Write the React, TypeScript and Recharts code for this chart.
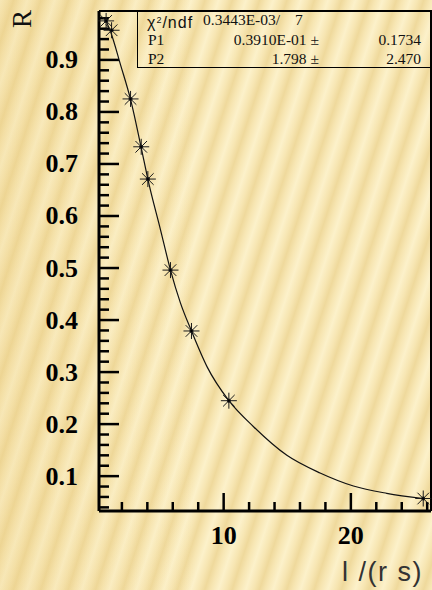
import React from "react";
import {
  ComposedChart,
  Line,
  Scatter,
  XAxis,
  YAxis,
  ReferenceLine,
} from "recharts";

// measured points
const pointX = [0.76, 1.19, 2.68, 3.52, 4.04, 5.82, 7.47, 10.41, 25.69];
const pointR = [0.975, 0.957, 0.825, 0.733, 0.671, 0.496, 0.379, 0.245, 0.057];

// fitted curve
const fitX = [
  0.76, 1.11, 1.9, 2.68, 3.52, 4.04, 5.04, 5.82, 6.6, 7.47, 8.7, 10.41, 12.35,
  14.97, 17.58, 20.2, 22.82, 25.69,
];
const fitR = [
  0.975, 0.954, 0.89, 0.824, 0.731, 0.671, 0.573, 0.496, 0.433, 0.379, 0.31,
  0.245, 0.195, 0.14, 0.106, 0.081, 0.067, 0.057,
];

const xMajorTicks = [10, 20];
const xMinorTicks = [2, 4, 6, 8, 12, 14, 16, 18, 22, 24, 26];
const yMajorTicks = [0.1, 0.2, 0.3, 0.4, 0.5, 0.6, 0.7, 0.8, 0.9];
const yMinorTicks = [
  0.04, 0.06, 0.08, 0.12, 0.14, 0.16, 0.18, 0.22, 0.24, 0.26, 0.28, 0.32, 0.34,
  0.36, 0.38, 0.42, 0.44, 0.46, 0.48, 0.52, 0.54, 0.56, 0.58, 0.62, 0.64, 0.66,
  0.68, 0.72, 0.74, 0.76, 0.78, 0.82, 0.84, 0.86, 0.88, 0.92, 0.94, 0.96, 0.98,
];

const xDomain = [0.2, 26.3];
const yDomain = [0.033, 0.994];

// stats box
const chi2Text = "0.3443E-03/";
const ndfText = "7";
const parNames = ["P1", "P2"];
const parValues = ["0.3910E-01", "1.798"];
const parErrors = ["0.1734", "2.470"];

const points = pointX.map((x, i) => ({ x, r: pointR[i] }));
const fit = fitX.map((x, i) => ({ x, r: fitR[i] }));

// plot area size, used to turn tick lengths in px into data units
const plotW = 432 - 1 - 99;
const plotH = 590 - 11 - 79;
const pxToX = (px: number) => (px * (xDomain[1] - xDomain[0])) / plotW;
const pxToY = (px: number) => (px * (yDomain[1] - yDomain[0])) / plotH;

const isIn = (list: number[], v: number) =>
  list.some((m) => Math.abs(m - v) < 1e-6);

const tickFont = {
  fontFamily: "'Liberation Serif', serif",
  fontWeight: "bold" as const,
  fontSize: 26,
};

function renderYTick(p: any) {
  const v = p.payload.value;
  if (!isIn(yMajorTicks, v)) return <g key={p.index} />;
  return (
    <text
      key={p.index}
      x={Number(p.x) - 21}
      y={Number(p.y)}
      textAnchor="end"
      dominantBaseline="central"
      style={tickFont}
    >
      {v.toFixed(1)}
    </text>
  );
}

function renderXTick(p: any) {
  const v = p.payload.value;
  if (!isIn(xMajorTicks, v)) return <g key={p.index} />;
  return (
    <text
      key={p.index}
      x={Number(p.x)}
      y={Number(p.y) + 24}
      textAnchor="middle"
      dominantBaseline="central"
      style={tickFont}
    >
      {v}
    </text>
  );
}

function Star({ cx, cy }: any) {
  const s = 8;
  const d = 5.8;
  return (
    <g stroke="#1a1a1a" strokeWidth={1}>
      <line x1={cx - s} x2={cx + s} y1={cy} y2={cy} />
      <line x1={cx} x2={cx} y1={cy - s} y2={cy + s} />
      <line x1={cx - d} x2={cx + d} y1={cy - d} y2={cy + d} />
      <line x1={cx - d} x2={cx + d} y1={cy + d} y2={cy - d} />
      <circle cx={cx} cy={cy} r={1.6} fill="#000" />
    </g>
  );
}

const statFont: React.CSSProperties = {
  position: "absolute",
  fontFamily: "'Liberation Serif', serif",
  fontSize: 15.5,
  lineHeight: "18px",
  color: "#111",
  whiteSpace: "nowrap",
};

export default function App() {
  const yTicks = [...yMinorTicks, ...yMajorTicks];
  const xTicks = [...xMinorTicks, ...xMajorTicks];
  return (
    <div
      style={{
        position: "absolute",
        left: 0,
        top: 0,
        width: 432,
        height: 590,
        overflow: "hidden",
        background:
          "linear-gradient(to right, rgba(232,200,120,0.25), rgba(232,200,120,0) 45%), repeating-linear-gradient(108deg, #fcf1ca 0px, #f7e6b3 7px, #efd99c 13px, #f7e6b3 19px, #fcf1ca 26px)",
      }}
    >
      <ComposedChart
        width={432}
        height={590}
        margin={{ top: 11, right: 1, left: 0, bottom: 0 }}
      >
        <XAxis
          type="number"
          dataKey="x"
          domain={xDomain}
          ticks={xTicks}
          interval={0}
          tickSize={0}
          tickMargin={0}
          tick={renderXTick}
          axisLine={false}
          height={79}
        />
        <YAxis
          type="number"
          dataKey="r"
          domain={yDomain}
          ticks={yTicks}
          interval={0}
          tickSize={0}
          tickMargin={0}
          tick={renderYTick}
          axisLine={false}
          width={99}
        />
        {yTicks.map((v) => (
          <ReferenceLine
            key={`ty-${v}`}
            ifOverflow="visible"
            segment={[
              { x: xDomain[0], y: v },
              { x: xDomain[0] + pxToX(isIn(yMajorTicks, v) ? 20 : 10), y: v },
            ]}
            stroke="#000"
            strokeWidth={2.5}
          />
        ))}
        {xTicks.map((v) => (
          <ReferenceLine
            key={`tx-${v}`}
            ifOverflow="visible"
            segment={[
              { x: v, y: yDomain[0] },
              { x: v, y: yDomain[0] + pxToY(isIn(xMajorTicks, v) ? 18 : 9) },
            ]}
            stroke="#000"
            strokeWidth={2.5}
          />
        ))}
        <ReferenceLine x={xDomain[0]} stroke="#000" strokeWidth={3} />
        <ReferenceLine y={yDomain[0]} stroke="#000" strokeWidth={3} />
        <ReferenceLine y={yDomain[1]} stroke="#000" strokeWidth={2} />
        <ReferenceLine x={xDomain[1]} stroke="#000" strokeWidth={2} />
        <Line
          data={fit}
          dataKey="r"
          type="monotone"
          stroke="#111"
          strokeWidth={1.2}
          dot={false}
          isAnimationActive={false}
        />
        <Scatter
          data={points}
          dataKey="r"
          shape={<Star />}
          isAnimationActive={false}
        />
      </ComposedChart>

      {/* y title */}
      <div
        style={{
          position: "absolute",
          left: 22,
          top: 19,
          transform: "translate(-50%, -50%) rotate(-90deg)",
          fontFamily: "'Liberation Serif', serif",
          fontSize: 27,
          lineHeight: "27px",
          color: "#111",
        }}
      >
        R
      </div>

      {/* x title */}
      <div
        style={{
          position: "absolute",
          right: 9,
          top: 572,
          transform: "translateY(-50%)",
          fontFamily: "'Liberation Sans', sans-serif",
          fontSize: 27,
          lineHeight: "30px",
          letterSpacing: 1.5,
          color: "#333",
        }}
      >
        l /(r s)
      </div>

      {/* stats box */}
      <div
        style={{
          position: "absolute",
          left: 137,
          top: 10,
          width: 295,
          height: 58,
          border: "1.5px solid #000",
          boxSizing: "border-box",
        }}
      />
      <div
        style={{
          ...statFont,
          left: 147,
          top: 11,
          fontFamily: "'Liberation Sans', sans-serif",
          fontSize: 16,
          letterSpacing: 1,
        }}
      >
        χ<sup style={{ fontSize: 9, verticalAlign: "5px" }}>2</sup>/ndf
      </div>
      <div style={{ ...statFont, left: 203, top: 11 }}>{chi2Text}</div>
      <div style={{ ...statFont, left: 295, top: 11 }}>{ndfText}</div>
      {parNames.map((n, i) => (
        <React.Fragment key={n}>
          <div style={{ ...statFont, left: 148, top: 31 + i * 19 }}>{n}</div>
          <div style={{ ...statFont, right: 432 - 319, top: 31 + i * 19 }}>
            {parValues[i]} ±
          </div>
          <div style={{ ...statFont, right: 432 - 421, top: 31 + i * 19 }}>
            {parErrors[i]}
          </div>
        </React.Fragment>
      ))}
    </div>
  );
}
